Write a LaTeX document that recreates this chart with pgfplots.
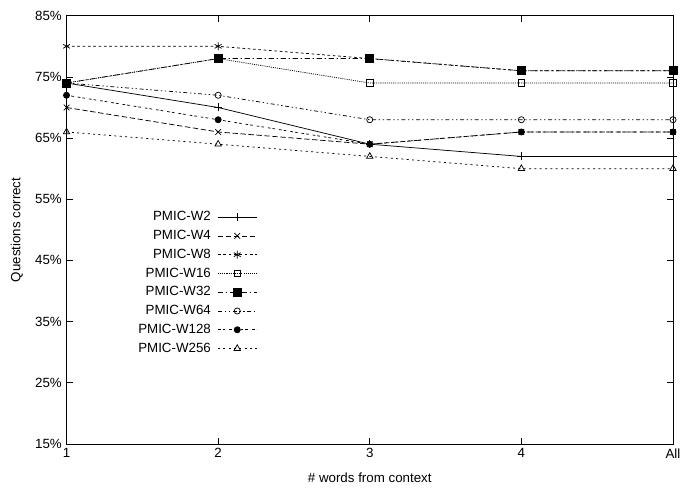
\documentclass[border=0pt]{standalone}
\usepackage{fontspec}
\setmainfont{Liberation Sans}
\usepackage{pgfplots}
\pgfplotsset{compat=1.18}
\begin{document}
\fontsize{10}{12}\selectfont
\begin{tikzpicture}
\begin{axis}[
  scale only axis,
  width=454.9pt, height=321.2pt,
  xmin=1, xmax=5, ymin=15, ymax=85,
  xtick={1,2,3,4,5}, xticklabels={1,2,3,4,All},
  ytick={15,25,35,45,55,65,75,85},
  yticklabels={15\%,25\%,35\%,45\%,55\%,65\%,75\%,85\%},
  tick align=inside, major tick length=4.5pt,
  tick style={black, line width=0.5pt},
  axis line style={line width=0.6pt},
  xlabel={\# words from context},
  ylabel={Questions correct},
  every axis y label/.style={at={(axis description cs:-0.082,0.5)},rotate=90,anchor=center},
  every axis x label/.style={at={(axis description cs:0.5,-0.078)},anchor=center},
  ticklabel style={font=\fontsize{10}{12}\selectfont},
  label style={font=\fontsize{10}{12}\selectfont},
  legend cell align=right,
  legend plot pos=right,
  legend style={draw=none, fill=none, at={(axis description cs:0.321,0.556)}, anchor=north east,
    font=\fontsize{10}{12}\selectfont, row sep=1.6pt,
    /tikz/every odd column/.append style={column sep=3pt}},
  legend image code/.code={\draw[mark repeat=2,mark phase=2] plot coordinates {(0pt,0pt) (14.5pt,0pt) (29pt,0pt)};},
  every axis plot/.append style={black, line width=0.55pt},
  clip=false,
]
\addplot[solid, mark=+, mark size=3pt, mark options={solid}] coordinates {(1,74) (2,70) (3,64) (4,62) (5,62)};
\addlegendentry{PMIC-W2}
\addplot[dash pattern=on 4pt off 2pt, mark=x, mark size=3pt, mark options={solid}] coordinates {(1,70) (2,66) (3,64) (4,66) (5,66)};
\addlegendentry{PMIC-W4}
\addplot[dash pattern=on 2pt off 2pt, mark=asterisk, mark size=3pt, mark options={solid}] coordinates {(1,80) (2,80) (3,78) (4,76) (5,76)};
\addlegendentry{PMIC-W8}
\addplot[dash pattern=on 0.8pt off 0.8pt, mark=square, mark size=2.5pt, mark options={solid}] coordinates {(1,74) (2,78) (3,74) (4,74) (5,74)};
\addlegendentry{PMIC-W16}
\addplot[dash pattern=on 4pt off 2pt on 1pt off 2pt, mark=square*, mark size=3pt, mark options={solid}] coordinates {(1,74) (2,78) (3,78) (4,76) (5,76)};
\addlegendentry{PMIC-W32}
\addplot[dash pattern=on 3pt off 2pt on 1pt off 2pt on 1pt off 2pt, mark=o, mark size=2.3pt, mark options={solid}] coordinates {(1,74) (2,72) (3,68) (4,68) (5,68)};
\addlegendentry{PMIC-W64}
\addplot[dash pattern=on 2pt off 1.5pt on 2pt off 3pt, mark=*, mark size=2.3pt, mark options={solid}] coordinates {(1,72) (2,68) (3,64) (4,66) (5,66)};
\addlegendentry{PMIC-W128}
\addplot[dash pattern=on 1.5pt off 2.5pt, mark=triangle, mark size=2.8pt, mark options={solid}] coordinates {(1,66) (2,64) (3,62) (4,60) (5,60)};
\addlegendentry{PMIC-W256}
\end{axis}
\pgfresetboundingbox
\path (-49.9pt,-33.75pt) rectangle (460.15pt,333pt);
\end{tikzpicture}
\end{document}
